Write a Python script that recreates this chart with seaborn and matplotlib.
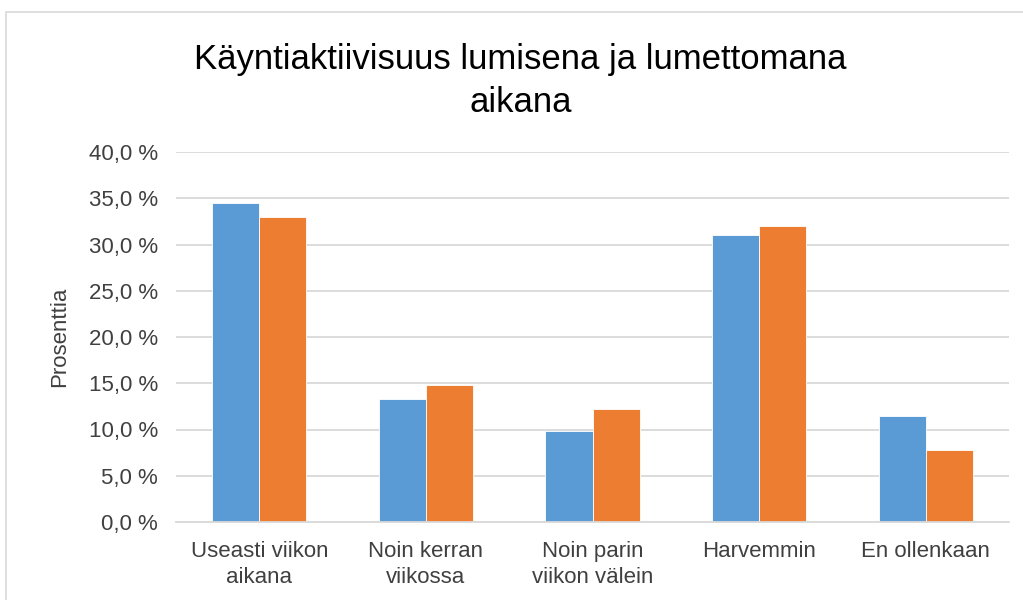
import matplotlib
matplotlib.use("Agg")
import matplotlib.pyplot as plt
import seaborn as sns
import pandas as pd
from matplotlib.ticker import FuncFormatter, MultipleLocator
from matplotlib.patches import Rectangle

categories = ["Useasti viikon\naikana", "Noin kerran\nviikossa", "Noin parin\nviikon välein",
              "Harvemmin", "En ollenkaan"]
series_names = ["Lumisena aikana", "Lumettomana aikana"]
lumisena = [34.5, 13.3, 9.8, 31.0, 11.5]
lumettomana = [33.0, 14.8, 12.2, 32.0, 7.8]
colors = ["#5B9BD5", "#ED7D31"]

df = pd.DataFrame({
    "kategoria": categories * 2,
    "sarja": [series_names[0]] * len(categories) + [series_names[1]] * len(categories),
    "arvo": lumisena + lumettomana,
})

sns.set_theme(style="white")
plt.rcParams["font.family"] = ["Liberation Sans", "DejaVu Sans"]

fig = plt.figure(figsize=(10.23, 6.0), dpi=100)
ax = fig.add_axes([176 / 1023, 1 - 522 / 600, (1009 - 176) / 1023, (522 - 152) / 600])

sns.barplot(data=df, x="kategoria", y="arvo", hue="sarja", hue_order=series_names,
            palette=colors, width=0.565, saturation=1, legend=False, ax=ax,
            edgecolor="white", linewidth=0.6, errorbar=None)

ax.set_ylim(0, 40)
ax.yaxis.set_major_locator(MultipleLocator(5))
ax.yaxis.set_major_formatter(FuncFormatter(lambda v, p: f"{v:.1f}".replace(".", ",") + " %"))
ax.grid(axis="y", color="#D9D9D9", linewidth=1.3)
ax.set_axisbelow(True)
for s in ["top", "right", "left"]:
    ax.spines[s].set_visible(False)
ax.spines["bottom"].set_color("#D9D9D9")
ax.spines["bottom"].set_linewidth(1.3)
ax.tick_params(axis="both", length=0, labelsize=16, colors="#404040")
ax.tick_params(axis="y", pad=13)
ax.tick_params(axis="x", pad=14)
for lab in ax.get_xticklabels():
    lab.set_linespacing(1.3)
ax.set_xlabel("")
ax.set_ylabel("Prosenttia", fontsize=16, color="#404040")
ax.yaxis.set_label_coords((70 - 176) / 833, 0.5)

fig.text(0.509, 1 - 43 / 600, "Käyntiaktiivisuus lumisena ja lumettomana\naikana",
         ha="center", va="top", fontsize=25, color="#000000", linespacing=1.4)

fig.patches.append(Rectangle((6 / 1023, -0.1), 1.5, 1 - 12 / 600 + 0.1, transform=fig.transFigure,
                             fill=False, edgecolor="#D9D9D9", linewidth=1.2, zorder=0))

fig.savefig("out.png", dpi=100)
